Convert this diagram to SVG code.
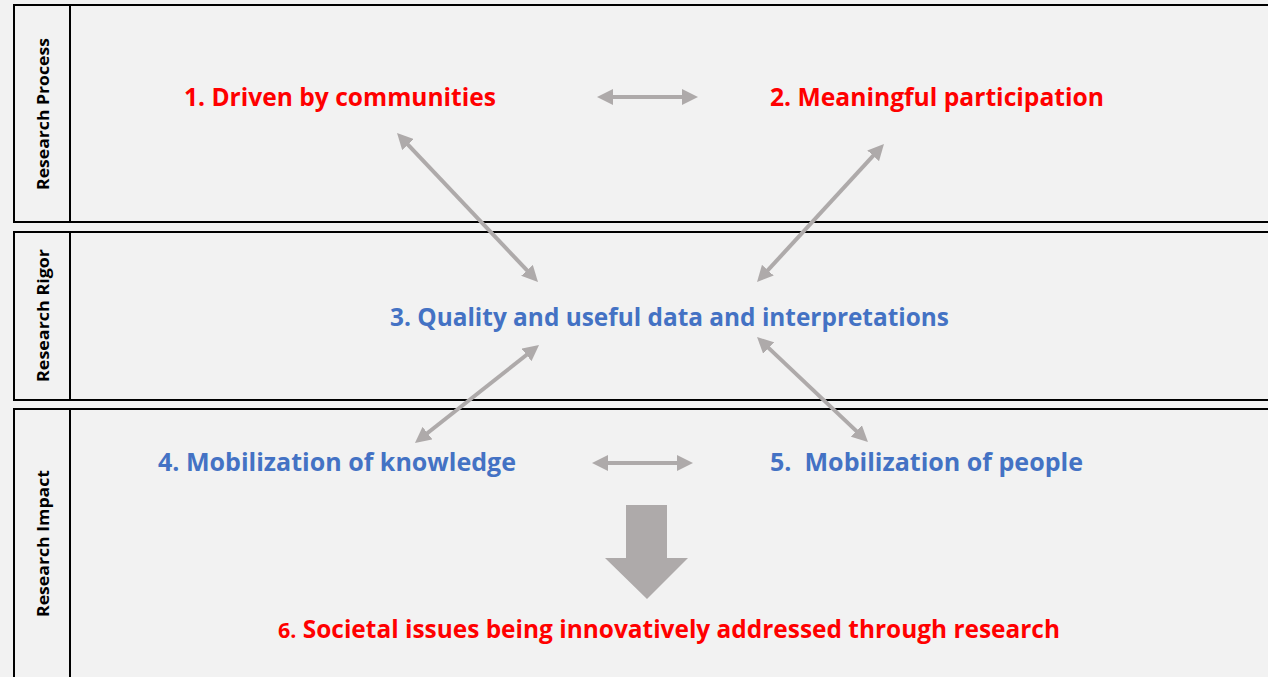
<svg xmlns="http://www.w3.org/2000/svg" width="1268" height="677" viewBox="0 0 1268 677">
  <style>
    .band { fill: #f2f2f2; stroke: #000; stroke-width: 2; }
    .div { stroke: #000; stroke-width: 2; }
    .side { font-family: "Open Sans", "Liberation Sans", sans-serif; font-weight: bold; font-size: 16.5px; fill: #000; text-anchor: middle; }
    .lbl { font-family: "Open Sans", "Liberation Sans", sans-serif; font-weight: bold; font-size: 25px; }
    .red { fill: #ff0000; }
    .blue { fill: #4472c4; }
    .conn { stroke: #aeaaaa; stroke-width: 4; fill: none; marker-start: url(#ah); marker-end: url(#ah); }
  </style>
  <defs>
    <marker id="ah" viewBox="0 0 16 16" markerWidth="16" markerHeight="16" refX="6" refY="8" markerUnits="userSpaceOnUse" orient="auto-start-reverse">
      <path d="M0,0 L16,8 L0,16 z" fill="#aeaaaa"/>
    </marker>
  </defs>
  <rect x="0" y="0" width="1268" height="677" fill="#f2f2f2"/>

  <g id="band-process">
    <rect class="band" x="14" y="5" width="1270" height="217"/>
    <line class="div" x1="70" y1="5" x2="70" y2="222"/>
    <text class="side" transform="translate(49,114) rotate(-90)" textLength="152" lengthAdjust="spacingAndGlyphs">Research Process</text>
  </g>
  <g id="band-rigor">
    <rect class="band" x="14" y="232" width="1270" height="168"/>
    <line class="div" x1="70" y1="232" x2="70" y2="400"/>
    <text class="side" transform="translate(49,315.5) rotate(-90)" textLength="133" lengthAdjust="spacingAndGlyphs">Research Rigor</text>
  </g>
  <g id="band-impact">
    <rect class="band" x="14" y="409" width="1270" height="280"/>
    <line class="div" x1="70" y1="409" x2="70" y2="689"/>
    <text class="side" transform="translate(49,543.5) rotate(-90)" textLength="147" lengthAdjust="spacingAndGlyphs">Research Impact</text>
  </g>

  <g id="connectors">
    <line class="conn" x1="607" y1="97" x2="688" y2="97"/>
    <line class="conn" x1="602" y1="463" x2="683" y2="463"/>
    <line class="conn" x1="403.9" y1="140.3" x2="531.1" y2="274.7"/>
    <line class="conn" x1="877.2" y1="151.4" x2="763.8" y2="274.6"/>
    <line class="conn" x1="531.2" y1="351.2" x2="422.8" y2="436.8"/>
    <line class="conn" x1="764.3" y1="343.9" x2="860.7" y2="435.1"/>
    <polygon points="626,505 667,505 667,558 688,558 647,599 605,558 626,558" fill="#aeaaaa"/>
  </g>

  <g id="node1"><text class="lbl red" x="184" y="106" textLength="312" lengthAdjust="spacingAndGlyphs">1. Driven by communities</text></g>
  <g id="node2"><text class="lbl red" x="770" y="106" textLength="334" lengthAdjust="spacingAndGlyphs">2. Meaningful participation</text></g>
  <g id="node3"><text class="lbl blue" x="390" y="326" textLength="559" lengthAdjust="spacingAndGlyphs">3. Quality and useful data and interpretations</text></g>
  <g id="node4"><text class="lbl blue" x="158" y="471" textLength="358" lengthAdjust="spacingAndGlyphs">4. Mobilization of knowledge</text></g>
  <g id="node5"><text class="lbl blue" x="770" y="471" textLength="313" lengthAdjust="spacingAndGlyphs" xml:space="preserve">5.  Mobilization of people</text></g>
  <g id="node6"><text class="lbl red" x="278" y="638" textLength="782" lengthAdjust="spacingAndGlyphs"><tspan font-size="22px">6.</tspan> Societal issues being innovatively addressed through research</text></g>
</svg>
